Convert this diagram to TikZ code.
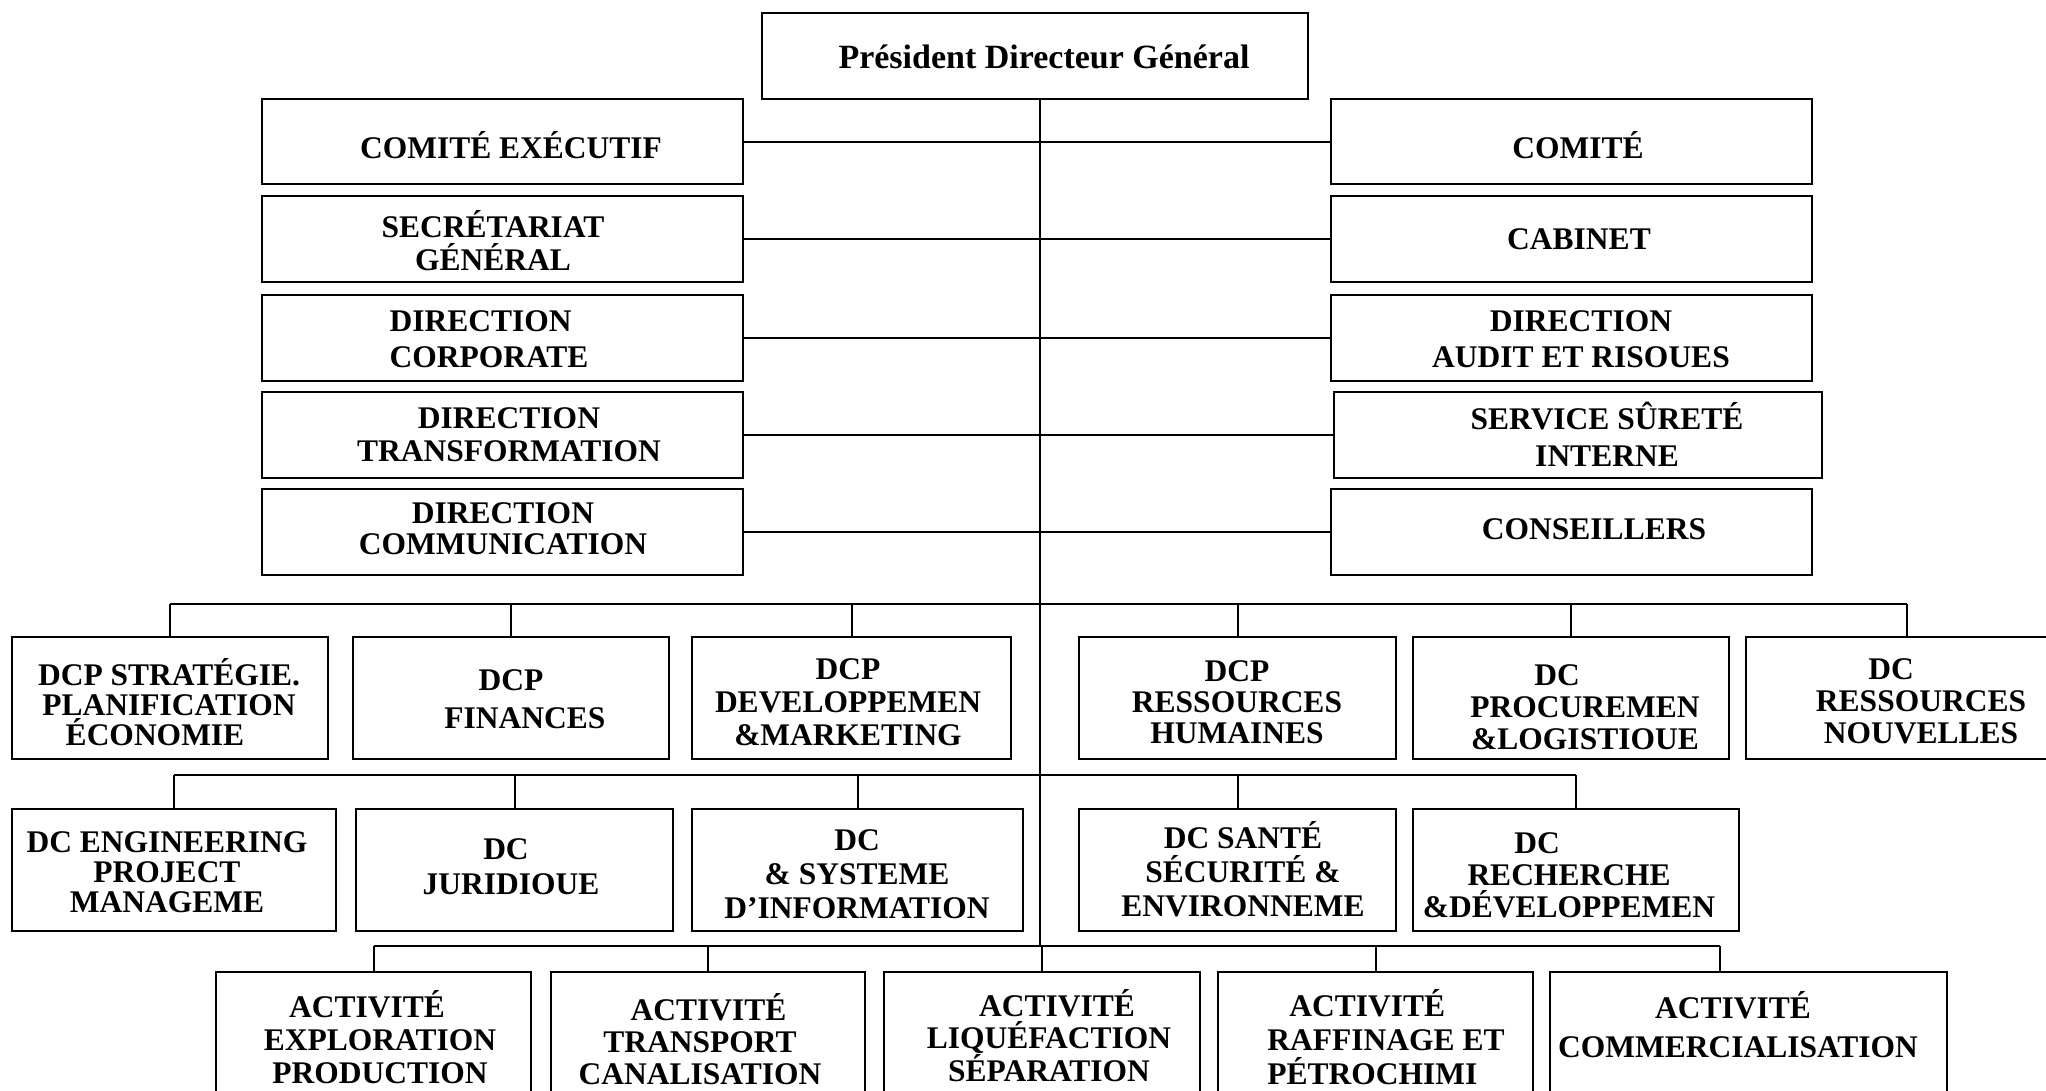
\documentclass[tikz,border=0pt]{standalone}
\usepackage{fontspec}
\setmainfont{Liberation Serif}
\usetikzlibrary{fit}
\begin{document}
\begin{tikzpicture}[x=1pt,y=1pt,
  box/.style={draw=black, line width=2.6pt, inner sep=0pt, rectangle},
  conn/.style={draw=black, line width=2pt},
  lbl/.style={font=\bfseries\fontsize{31.5}{#1}\selectfont, align=center, inner sep=0pt},
  lbl/.default=33]

\useasboundingbox (0,0) rectangle (2046,-1090);
\clip (0,0) rectangle (2046,-1090);
\fill[white] (0,0) rectangle (2046,-1090);

% --- head of the organisation
\node[box, fit={(762,-13)(1308,-99)}] (pdg) {};

% --- left column
\node[box, fit={(262,-99)(743,-184)}]  (comex) {};
\node[box, fit={(262,-196)(743,-282)}] (secgen) {};
\node[box, fit={(262,-295)(743,-381)}] (dircorp) {};
\node[box, fit={(262,-392)(743,-478)}] (dirtrans) {};
\node[box, fit={(262,-489)(743,-575)}] (dircom) {};

% --- right column
\node[box, fit={(1331,-99)(1812,-184)}]  (comite) {};
\node[box, fit={(1331,-196)(1812,-282)}] (cabinet) {};
\node[box, fit={(1331,-295)(1812,-381)}] (audit) {};
\node[box, fit={(1334,-392)(1822,-478)}] (surete) {};
\node[box, fit={(1331,-489)(1812,-575)}] (conseil) {};

% --- first row of central directions
\node[box, fit={(12,-637)(328,-759)}]    (strat) {};
\node[box, fit={(353,-637)(669,-759)}]   (fin) {};
\node[box, fit={(692,-637)(1011,-759)}]  (dev) {};
\node[box, fit={(1079,-637)(1396,-759)}] (rh) {};
\node[box, fit={(1413,-637)(1729,-759)}] (proc) {};
\node[box, fit={(1746,-637)(2068,-759)}] (nouv) {};

% --- second row
\node[box, fit={(12,-809)(336,-931)}]    (eng) {};
\node[box, fit={(356,-809)(673,-931)}]   (jur) {};
\node[box, fit={(692,-809)(1023,-931)}]  (sys) {};
\node[box, fit={(1079,-809)(1396,-931)}] (sante) {};
\node[box, fit={(1413,-809)(1739,-931)}] (rech) {};

% --- activities
\node[box, fit={(216,-972)(531,-1110)}]   (expl) {};
\node[box, fit={(551,-972)(865,-1110)}]   (trans) {};
\node[box, fit={(884,-972)(1200,-1110)}]  (liq) {};
\node[box, fit={(1218,-972)(1533,-1110)}] (raff) {};
\node[box, fit={(1550,-972)(1947,-1110)}] (comm) {};

% --- trunk and buses
\coordinate (t3) at (1040,-946);
\coordinate (b1) at (1040,-604);
\coordinate (b2) at (1040,-775);
\draw[conn] (pdg.south -| t3) -- (t3);

\foreach \n in {comex,secgen,dircorp,dirtrans,dircom}
  \draw[conn] (\n.east) -- (\n.east -| t3);
\foreach \n in {comite,cabinet,audit,surete,conseil}
  \draw[conn] (t3 |- \n.west) -- (\n.west);

\draw[conn] (strat.north |- b1) -- (nouv.north |- b1);
\foreach \n in {strat,fin,dev,rh,proc,nouv}
  \draw[conn] (\n.north |- b1) -- (\n.north);

\draw[conn] (eng.north |- b2) -- (rech.north |- b2);
\foreach \n in {eng,jur,sys,sante,rech}
  \draw[conn] (\n.north |- b2) -- (\n.north);

\draw[conn] (expl.north |- t3) -- ([xshift=-28.5pt]comm.north |- t3);
\foreach \n in {expl,trans,liq,raff}
  \draw[conn] (\n.north |- t3) -- (\n.north);
\draw[conn] ([xshift=-28.5pt]comm.north |- t3) -- ([xshift=-28.5pt]comm.north);

% --- labels
\node[lbl, font=\bfseries\fontsize{34}{36}\selectfont] (pdg-t) at (1044,-57) {Président Directeur Général};

\node[lbl] (comex-t) at (511,-145) {COMITÉ EXÉCUTIF};
\node[lbl] (secgen-t) at (493,-241) {SECRÉTARIAT\\GÉNÉRAL};
\node[lbl=36, align=left] (dircorp-t) at (489,-339) {DIRECTION\\CORPORATE};
\node[lbl] (dirtrans-t) at (509,-435) {DIRECTION\\TRANSFORMATION};
\node[lbl=31] (dircom-t) at (503,-529) {DIRECTION\\COMMUNICATION};

\node[lbl] (comite-t) at (1578,-145) {COMITÉ};
\node[lbl] (cabinet-t) at (1579,-239) {CABINET};
\node[lbl=36] (audit-t) at (1581,-339) {DIRECTION\\AUDIT ET RISOUES};
\node[lbl=37] (surete-t) at (1607,-434) {SERVICE SÛRETÉ\\INTERNE};
\node[lbl] (conseil-t) at (1594,-529) {CONSEILLERS};

\node[lbl=30] (strat-t) at (169,-702) {DCP STRATÉGIE.\\PLANIFICATION\\ÉCONOMIE\hspace*{28pt}};
\node[lbl=38] (fin-t) at (525,-699) {DCP\hspace*{28pt}\\FINANCES};
\node[lbl] (dev-t) at (848,-702) {DCP\\DEVELOPPEMEN\\\&MARKETING};
\node[lbl=31] (rh-t) at (1237,-702) {DCP\\RESSOURCES\\HUMAINES};
\node[lbl=32] (proc-t) at (1585,-707) {DC\hspace*{56pt}\\PROCUREMEN\\\&LOGISTIOUE};
\node[lbl=32] (nouv-t) at (1921,-701) {DC\hspace*{60pt}\\RESSOURCES\\NOUVELLES};

\node[lbl=30] (eng-t) at (167,-872) {DC ENGINEERING\\PROJECT\\MANAGEME};
\node[lbl=35] (jur-t) at (511,-867) {DC\hspace*{10pt}\\JURIDIOUE};
\node[lbl=34] (sys-t) at (857,-874) {DC\\\& SYSTEME\hspace*{16pt}\\D’INFORMATION};
\node[lbl=34] (sante-t) at (1243,-869) {DC SANTÉ\\SÉCURITÉ \&\\ENVIRONNEME};
\node[lbl=32] (rech-t) at (1569,-875) {DC\hspace*{64pt}\\RECHERCHE\\\&DÉVELOPPEMEN};

\node[lbl=33] (expl-t) at (380,-1037) {ACTIVITÉ\hspace*{26pt}\\EXPLORATION\\PRODUCTION};
\node[lbl=32] (trans-t) at (700,-1039) {\hspace*{17pt}ACTIVITÉ\\TRANSPORT\hspace*{20pt}\\CANALISATION};
\node[lbl=32] (liq-t) at (1049,-1036) {\hspace*{16pt}ACTIVITÉ\\LIQUÉFACTION\\SÉPARATION};
\node[lbl=34, align=left] (raff-t) at (1386,-1037) {\hspace*{22pt}ACTIVITÉ\\RAFFINAGE ET\\PÉTROCHIMI};
\node[lbl=39] (comm-t) at (1738,-1025) {ACTIVITÉ\hspace*{10pt}\\COMMERCIALISATION};

\end{tikzpicture}
\end{document}
